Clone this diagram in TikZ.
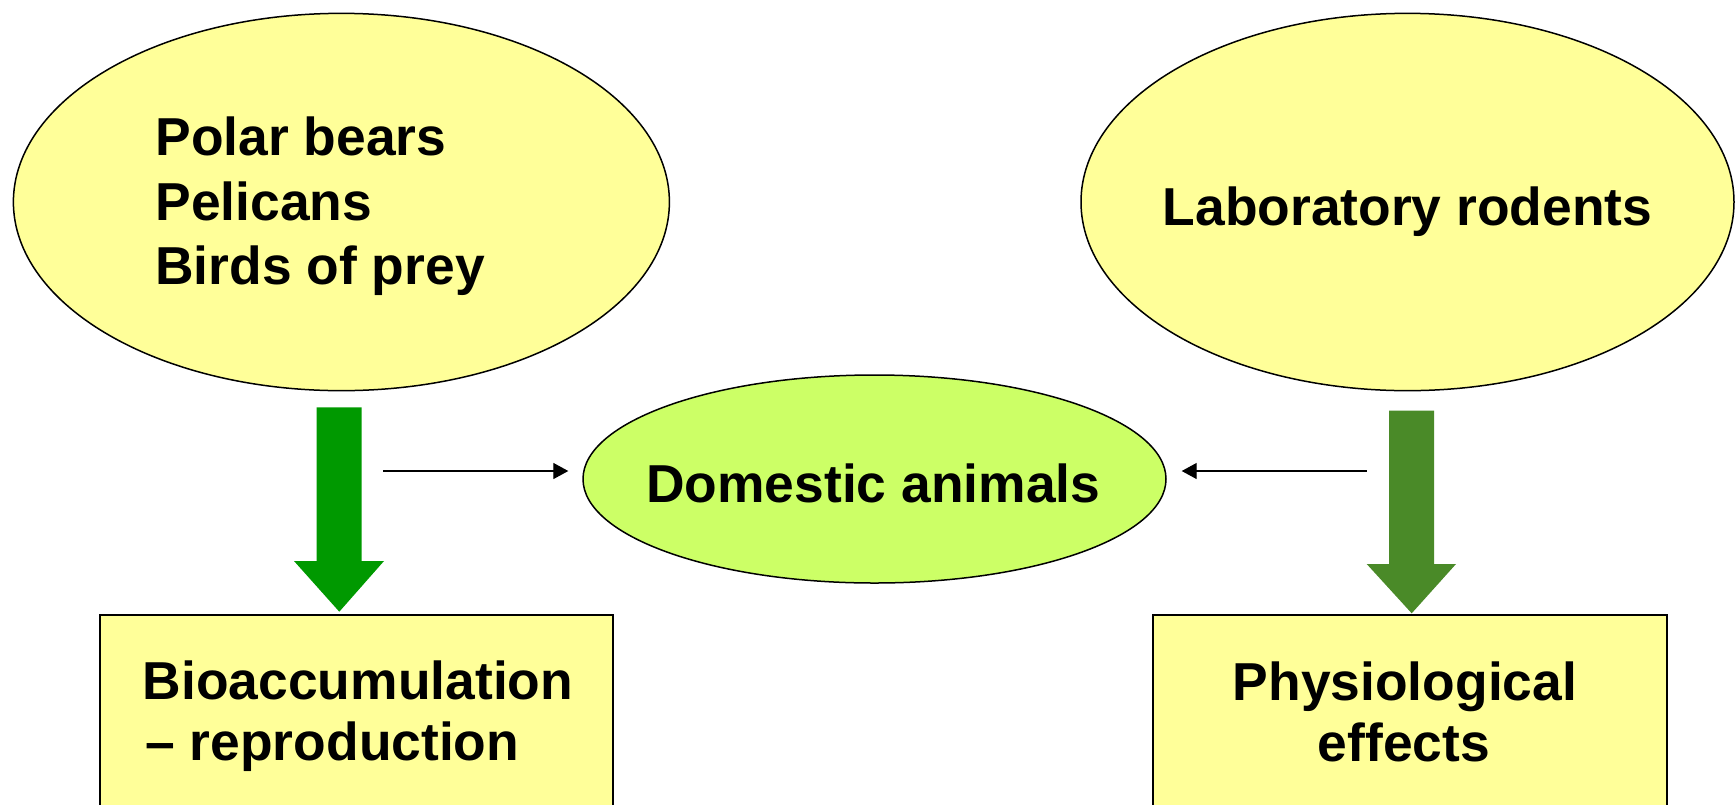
\documentclass[tikz,border=0pt]{standalone}
\usepackage{fontspec}
\setmainfont{Liberation Sans}
\usetikzlibrary{shapes.geometric,arrows.meta}
\definecolor{paleyellow}{HTML}{FFFF99}
\definecolor{limegreen}{HTML}{CCFF66}
\definecolor{darkgreenA}{HTML}{009900}
\definecolor{olivegreenB}{HTML}{4A8A28}
\tikzset{
  bubble/.style={ellipse, draw=black, line width=0.75pt, fill=paleyellow, inner sep=0pt},
  outcome/.style={rectangle, draw=black, line width=1pt, fill=paleyellow, inner sep=0pt},
  label/.style={inner sep=0pt, font=\fontsize{26.7}{32}\selectfont\bfseries},
  thinarrow/.style={line width=0.65pt, -{Triangle[length=7.5pt,width=8pt]}},
}
\begin{document}
\begin{tikzpicture}[x=0.5pt,y=-0.5pt]
\useasboundingbox (0,0) rectangle (1735,804);
% ellipses
\node[bubble, minimum width=328pt, minimum height=188.65pt] (sp) at (341.4,202) {};
\node[bubble, minimum width=326.5pt, minimum height=188.65pt] (lab) at (1407.5,202) {};
\node[bubble, fill=limegreen, minimum width=291.5pt, minimum height=104pt] (dom) at (874.5,479) {};
% boxes (run off the bottom of the page)
\node[outcome, minimum width=256.65pt, minimum height=110pt, anchor=north west] (bio) at (99,614) {};
\node[outcome, minimum width=256.85pt, minimum height=110pt, anchor=north west] (phy) at (1152,614) {};
% texts
\node[label, anchor=base west] (t1) at (155,155) {Polar bears};
\node[label, anchor=base west] (t2) at (155,220) {Pelicans};
\node[label, anchor=base west] (t3) at (155,284) {Birds of prey};
\node[label, anchor=base] (t4) at (1407.5,225) {Laboratory rodents};
\node[label, anchor=base] (t5) at (873.3,502.3) {Domestic animals};
\node[label, anchor=base west] (t6) at (142.5,699.3) {Bioaccumulation};
\node[label, anchor=base west] (t7) at (145,760) {– reproduction};
\node[label, anchor=base] (t8) at (1405,700) {Physiological};
\node[label, anchor=base] (t9) at (1404,761.7) {effects};
% big block arrows
\fill[darkgreenA] (316.7,407.3) -- (361.7,407.3) -- (361.7,561) -- (384,561) -- (339.3,611.7)
  -- (294,561) -- (316.7,561) -- cycle;
\fill[olivegreenB] (1389,410.7) -- (1434,410.7) -- (1434,564) -- (1456,564) -- (1411.7,613.3)
  -- (1366.7,564) -- (1389,564) -- cycle;
% thin arrows
\coordinate (la) at (383.3,471);
\coordinate (lb) at (568.3,471);
\coordinate (ra) at (1366.7,471);
\coordinate (rb) at (1181.7,471);
\draw[thinarrow] (la) -- (lb);
\draw[thinarrow] (ra) -- (rb);
\end{tikzpicture}
\end{document}
